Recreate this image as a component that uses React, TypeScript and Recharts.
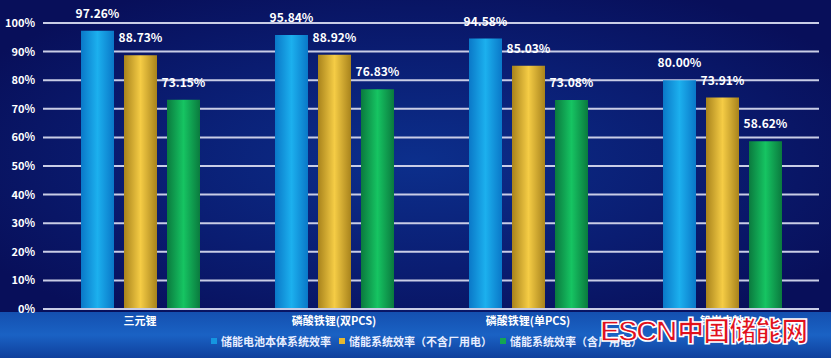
import { BarChart, Bar, XAxis, YAxis, CartesianGrid, Legend, LabelList } from "recharts";

const categories = ["三元锂", "磷酸铁锂(双PCS)", "磷酸铁锂(单PCS)", "铅炭电池"];
const cellEff = [97.26, 95.84, 94.58, 80.0];
const sysEffNoAux = [88.73, 88.92, 85.03, 73.91];
const sysEffAux = [73.15, 76.83, 73.08, 58.62];
const yTicks = [0, 10, 20, 30, 40, 50, 60, 70, 80, 90, 100];

const seriesNames = ["储能电池本体系统效率", "储能系统效率（不含厂用电）", "储能系统效率（含厂用电）"];
const seriesColors = ["#1596e0", "#e6b830", "#14a552"];

const data = categories.map((name, i) => ({
  name,
  a: cellEff[i],
  b: sysEffNoAux[i],
  c: sysEffAux[i]
}));

const font = "'Noto Sans CJK SC', 'Noto Sans', sans-serif";

const LegendContent = () => (
  <div style={{ display: "flex", justifyContent: "center", alignItems: "center", gap: 8, fontFamily: font, fontSize: 11, fontWeight: 700, color: "#e8eeff", height: 20, paddingLeft: 34, marginTop: -3 }}>
    {seriesNames.map((n, i) => (
      <span key={n} style={{ display: "flex", alignItems: "center" }}>
        <span style={{ width: 6, height: 6, background: seriesColors[i], marginRight: 4, display: "inline-block" }} />
        {n}
      </span>
    ))}
  </div>
);

export default function App() {
  return (
    <div
      style={{
        position: "absolute",
        left: 0,
        top: 0,
        width: 831,
        height: 358,
        overflow: "hidden",
        background:
          "radial-gradient(ellipse 60% 55% at 50% 45%, #0c2f8c 0%, #0a1d72 55%, #080f5a 100%)"
      }}
    >
      <div style={{ position: "absolute", left: 0, top: 312, width: 831, height: 46, background: "linear-gradient(180deg, #1450b0 0%, #1a62c4 50%, #0f3f9c 100%)" }} />
      <BarChart width={831} height={358} data={data} margin={{ top: 23, right: 12, left: 0, bottom: 0 }} barSize={33} barGap={10}>
        <defs>
          <linearGradient id="gA" x1="0" y1="0" x2="1" y2="0">
            <stop offset="0%" stopColor="#0a78c8" />
            <stop offset="50%" stopColor="#1cb0ee" />
            <stop offset="100%" stopColor="#0a78c8" />
          </linearGradient>
          <linearGradient id="gB" x1="0" y1="0" x2="1" y2="0">
            <stop offset="0%" stopColor="#a8831c" />
            <stop offset="50%" stopColor="#f5cc45" />
            <stop offset="100%" stopColor="#a8831c" />
          </linearGradient>
          <linearGradient id="gC" x1="0" y1="0" x2="1" y2="0">
            <stop offset="0%" stopColor="#0a7a3e" />
            <stop offset="50%" stopColor="#16c462" />
            <stop offset="100%" stopColor="#0a7a3e" />
          </linearGradient>
        </defs>
        <CartesianGrid vertical={false} stroke="#c9cde6" strokeWidth={2} />
        <XAxis
          dataKey="name"
          height={25}
          tickLine={false}
          axisLine={{ stroke: "#c9cde6", strokeWidth: 2 }}
          tick={{ fill: "#ffffff", fontSize: 11, fontWeight: 700, fontFamily: font }}
          interval={0}
        />
        <YAxis
          width={43}
          domain={[0, 100]}
          ticks={yTicks}
          tickFormatter={(v: number) => `${v}%`}
          tickLine={false}
          axisLine={false}
          tick={{ fill: "#ffffff", fontSize: 11, fontWeight: 700, fontFamily: font }}
        />
        <Legend verticalAlign="bottom" height={24} content={<LegendContent />} />
        <Bar dataKey="a" name={seriesNames[0]} fill="url(#gA)" isAnimationActive={false}>
          <LabelList dataKey="a" position="top" offset={13} formatter={(v: number) => `${v.toFixed(2)}%`} style={{ fill: "#ffffff", fontSize: 12, fontWeight: 700, fontFamily: font }} />
        </Bar>
        <Bar dataKey="b" name={seriesNames[1]} fill="url(#gB)" isAnimationActive={false}>
          <LabelList dataKey="b" position="top" offset={13} formatter={(v: number) => `${v.toFixed(2)}%`} style={{ fill: "#ffffff", fontSize: 12, fontWeight: 700, fontFamily: font }} />
        </Bar>
        <Bar dataKey="c" name={seriesNames[2]} fill="url(#gC)" isAnimationActive={false}>
          <LabelList dataKey="c" position="top" offset={13} formatter={(v: number) => `${v.toFixed(2)}%`} style={{ fill: "#ffffff", fontSize: 12, fontWeight: 700, fontFamily: font }} />
        </Bar>
      </BarChart>
      <div
        style={{
          position: "absolute",
          left: 600,
          top: 310,
          fontFamily: "'Liberation Sans', 'Noto Sans CJK SC', sans-serif",
          fontWeight: 900,
          fontSize: 30,
          lineHeight: "40px",
          color: "#e0101c",
          WebkitTextStroke: "1.5px #ffffff",
          whiteSpace: "nowrap",
          letterSpacing: -2
        }}
      >
        ESCN<span style={{ fontFamily: "'Noto Sans CJK SC', sans-serif", fontSize: 27, letterSpacing: -1, marginLeft: 2 }}>中国储能网</span>
      </div>
    </div>
  );
}
